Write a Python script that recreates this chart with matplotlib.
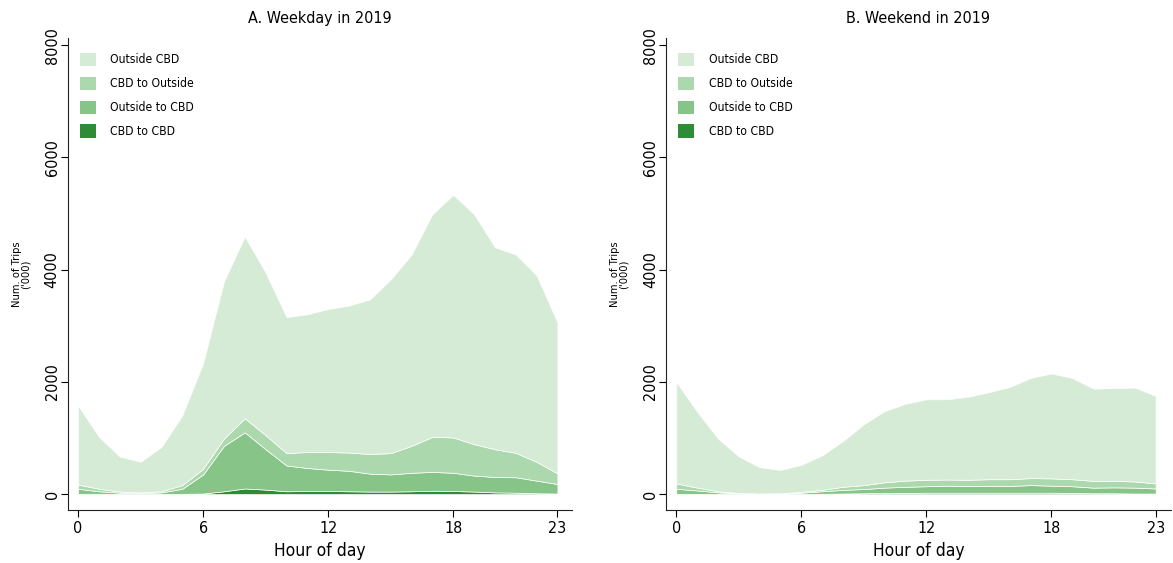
import numpy as np
import matplotlib
matplotlib.use("Agg")
import matplotlib.pyplot as plt
from matplotlib.patches import Patch

plt.rcParams['font.family'] = ['DejaVu Sans']
plt.rcParams['font.stretch'] = 'condensed'

hours = list(range(24))

# Weekday trips ('000), one layer per flow type
wd_cbd_cbd = [5, 5, 3, 2, 3, 5, 10, 50, 100, 80, 50, 55, 55, 50, 45, 45, 50, 60, 55, 45, 30, 25, 15, 10]
wd_out_cbd = [90, 45, 22, 13, 27, 90, 340, 810, 1000, 720, 460, 410, 380, 365, 320, 305, 330, 335, 325, 285, 275, 275, 225, 170]
wd_cbd_out = [75, 45, 20, 15, 20, 65, 100, 130, 250, 250, 220, 285, 315, 325, 350, 380, 480, 625, 630, 560, 495, 435, 335, 190]
wd_outside = [1410, 925, 625, 545, 790, 1240, 1880, 2800, 3240, 2900, 2425, 2455, 2550, 2620, 2755, 3095, 3410, 3970, 4325, 4100, 3600, 3535, 3325, 2690]

# Weekend trips ('000)
we_cbd_cbd = [5, 5, 3, 2, 2, 2, 3, 5, 10, 15, 20, 20, 25, 25, 25, 25, 25, 25, 25, 20, 15, 15, 10, 10]
we_out_cbd = [90, 60, 27, 13, 6, 6, 22, 45, 65, 75, 95, 110, 115, 125, 120, 120, 120, 135, 125, 120, 100, 105, 105, 90]
we_cbd_out = [95, 50, 20, 5, 2, 7, 15, 25, 55, 70, 95, 110, 115, 110, 110, 120, 120, 125, 130, 125, 120, 115, 110, 90]
we_outside = [1810, 1355, 940, 650, 470, 415, 480, 615, 815, 1085, 1270, 1370, 1435, 1430, 1480, 1550, 1645, 1785, 1870, 1805, 1645, 1655, 1675, 1560]

labels = ['CBD to CBD', 'Outside to CBD', 'CBD to Outside', 'Outside CBD']
colors = ['#2e8b36', '#86c488', '#acd8ad', '#d5ebd6']

panels = [
    ('A. Weekday in 2019', [wd_cbd_cbd, wd_out_cbd, wd_cbd_out, wd_outside]),
    ('B. Weekend in 2019', [we_cbd_cbd, we_out_cbd, we_cbd_out, we_outside]),
]

fig = plt.figure(figsize=(11.73, 5.63), dpi=100)
lefts = [0.058, 0.568]

for left, (title, layers) in zip(lefts, panels):
    ax = fig.add_axes([left, 0.094, 0.43, 0.838])
    ax.stackplot(hours, *layers, colors=colors, edgecolor='white', linewidth=0.5)

    ax.set_xlim(-0.48, 23.72)
    ax.set_ylim(-285, 8125)
    ax.set_xticks([0, 6, 12, 18, 23])
    ax.set_yticks([0, 2000, 4000, 6000, 8000])
    ax.tick_params(axis='x', labelsize=11.5, length=5, width=0.8, pad=3)
    ax.tick_params(axis='y', labelsize=11.5, length=5, width=0.8, pad=1)
    for lab in ax.get_yticklabels():
        lab.set_rotation(90)
        lab.set_va('center')

    for side in ['top', 'right']:
        ax.spines[side].set_visible(False)
    for side in ['left', 'bottom']:
        ax.spines[side].set_linewidth(0.8)
        ax.spines[side].set_color('#222222')

    ax.set_title(title, fontsize=11.5, pad=11)
    ax.set_xlabel('Hour of day', fontsize=12.5, labelpad=4)
    ax.set_ylabel("Num. of Trips\n('000)", fontsize=8, labelpad=10, linespacing=0.9)

    # legend lists the top layer first
    handles = [Patch(facecolor=c, edgecolor='none') for c in colors[::-1]]
    ax.legend(handles, labels[::-1], loc='upper left', bbox_to_anchor=(0.0, 0.995),
              frameon=False, fontsize=8.7, handlelength=1.3, handleheight=1.3,
              labelspacing=0.85, handletextpad=1.2, borderaxespad=0.6)

fig.savefig('out.png', dpi=100)
